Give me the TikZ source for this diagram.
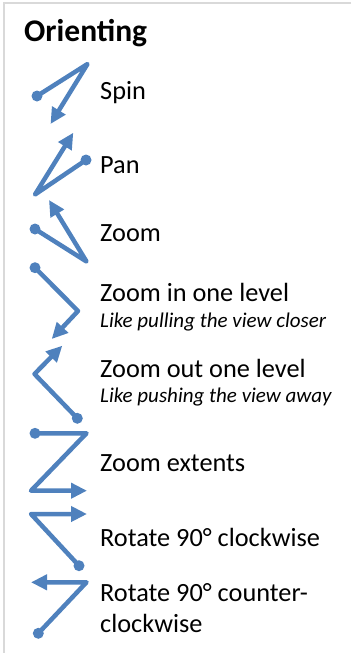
\documentclass[tikz,border=0pt]{standalone}
\usepackage{fontspec}
\setmainfont{Carlito}
\usetikzlibrary{arrows.meta}
\definecolor{iconblue}{HTML}{4F81BD}
\definecolor{framegray}{HTML}{D9D9D9}

\begin{document}
\begin{tikzpicture}[
    x=1pt, y=-1pt,
    every node/.style={inner sep=0pt, anchor=base west},
    glyph/.style={iconblue, line width=4.5pt, line join=round},
    headtip/.style={-{Triangle[length=16pt,width=15pt]}},
    entry/.style={font=\fontsize{26.3}{31}\selectfont},
    hint/.style={font=\fontsize{21}{25}\selectfont\itshape},
]
\useasboundingbox (0,0) rectangle (351,653);

% ---- column x-coordinates ----
\def\xtxt{100}    % left edge of every label

% ---- frame (top and left rule) ----
\coordinate (fTR) at (351,3);
\coordinate (fTL) at (4,3);
\coordinate (fBL) at (4,653);
\draw[framegray, line width=2pt] (fTR) -- (fTL) -- (fBL);

% ---- header ----
\node (title) at (24,41.5) {\fontsize{31.5}{37}\selectfont\bfseries Orienting};

% ---- Spin ----
\coordinate (spA) at (37,96);
\coordinate (spB) at (87.5,64);
\coordinate (spC) at (50.5,124);
\draw[glyph,headtip] (spA) -- (spB) -- (spC);
\fill[iconblue] (spA) circle (5.5pt);
\node[entry] (spin) at (\xtxt,99) {Spin};

% ---- Pan ----
\coordinate (paA) at (86,160);
\coordinate (paB) at (35,194.5);
\coordinate (paC) at (73.3,132.7);
\draw[glyph,headtip] (paA) -- (paB) -- (paC);
\fill[iconblue] (paA) circle (5.5pt);
\node[entry] (pan) at (\xtxt,173) {Pan};

% ---- Zoom ----
\coordinate (zoA) at (35,229);
\coordinate (zoB) at (86.5,261.5);
\coordinate (zoC) at (49,200);
\draw[glyph,headtip] (zoA) -- (zoB) -- (zoC);
\fill[iconblue] (zoA) circle (5.5pt);
\node[entry] (zoom) at (\xtxt,241.5) {Zoom};

% ---- Zoom in one level ----
\coordinate (ziA) at (35,267.7);
\coordinate (ziB) at (78,311);
\coordinate (ziC) at (51.7,339);
\draw[glyph,headtip] (ziA) -- (ziB) -- (ziC);
\fill[iconblue] (ziA) circle (5.5pt);
\node[entry] (zin) at (\xtxt,301.7) {Zoom in one level};
\node[hint] (zinsub) at (\xtxt,327) {Like pulling the view closer};

% ---- Zoom out one level ----
\coordinate (zuA) at (77.3,418.3);
\coordinate (zuB) at (34.5,374);
\coordinate (zuC) at (62.3,345.7);
\draw[glyph,headtip] (zuA) -- (zuB) -- (zuC);
\fill[iconblue] (zuA) circle (5.5pt);
\node[entry] (zout) at (\xtxt,377) {Zoom out one level};
\node[hint] (zoutsub) at (\xtxt,402) {Like pushing the view away};

% ---- Zoom extents ----
\coordinate (zeA) at (35,433.3);
\coordinate (zeB) at (86.5,433.3);
\coordinate (zeC) at (31,490.7);
\coordinate (zeD) at (87,490.7);
\draw[glyph,headtip] (zeA) -- (zeB) -- (zeC) -- (zeD);
\fill[iconblue] (zeA) circle (5.5pt);
\node[entry] (zext) at (\xtxt,471) {Zoom extents};

% ---- Rotate clockwise ----
\coordinate (rcA) at (79,565.7);
\coordinate (rcB) at (31,514);
\coordinate (rcC) at (87,514);
\draw[glyph,headtip] (rcA) -- (rcB) -- (rcC);
\fill[iconblue] (rcA) circle (5.5pt);
\node[entry] (rotcw) at (\xtxt,546.7) {Rotate 90° clockwise};

% ---- Rotate counter-clockwise ----
\coordinate (rxA) at (38.3,633.3);
\coordinate (rxB) at (86.5,582.3);
\coordinate (rxC) at (31,582.3);
\draw[glyph,headtip] (rxA) -- (rxB) -- (rxC);
\fill[iconblue] (rxA) circle (5.5pt);
\node[entry] (rotccw) at (\xtxt,601.5) {Rotate 90° counter-};
\node[entry] (rotccwb) at (\xtxt,632.5) {clockwise};

\end{tikzpicture}
\end{document}
